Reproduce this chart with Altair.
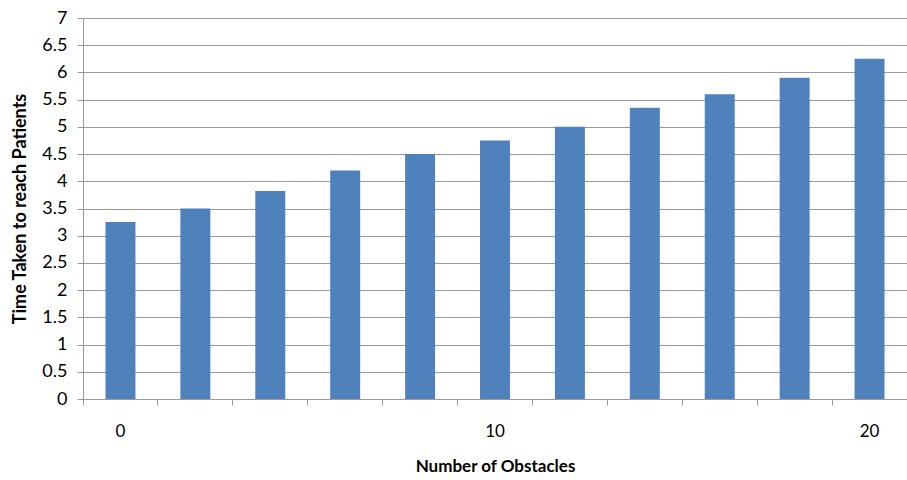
import altair as alt
import pandas as pd

# Obstacle counts and the measured time to reach patients
obstacles = [0, 2, 4, 6, 8, 10, 12, 14, 16, 18, 20]
times = [3.25, 3.5, 3.82, 4.2, 4.5, 4.75, 5.0, 5.35, 5.6, 5.9, 6.25]
y_ticks = [0, 0.5, 1, 1.5, 2, 2.5, 3, 3.5, 4, 4.5, 5, 5.5, 6, 6.5, 7]
x_labelled = ["0", "10", "20"]

df = pd.DataFrame({"obstacles": [str(v) for v in obstacles], "time": times})

FONT = "Lato"
GRID = "#9a9a9a"
PLOT_W = 824

bars = alt.Chart(df).mark_bar(
    color="#4f81bd",
    width=alt.RelativeBandSize(0.4),
).encode(
    x=alt.X(
        "obstacles:O",
        sort=None,
        scale=alt.Scale(paddingInner=0, paddingOuter=0),
        axis=alt.Axis(
            title="Number of Obstacles",
            titleFont=FONT,
            titleFontSize=17,
            titleFontWeight="bold",
            titleColor="#000000",
            titlePadding=19,
            labelFont=FONT,
            labelFontSize=17,
            labelColor="#000000",
            labelAngle=0,
            labelPadding=18,
            labelExpr="indexof(" + str(x_labelled) + ", datum.label) >= 0 ? datum.label : ''",
            bandPosition=0,
            tickColor=GRID,
            tickSize=6,
            domainColor=GRID,
            grid=False,
        ),
    ),
    y=alt.Y(
        "time:Q",
        scale=alt.Scale(domain=[0, 7], nice=False),
        axis=alt.Axis(
            title="Time Taken to reach Patients",
            titleFont=FONT,
            titleFontSize=18,
            titleFontWeight="bold",
            titleColor="#000000",
            titlePadding=12,
            labelFont=FONT,
            labelFontSize=18,
            labelColor="#000000",
            labelPadding=10,
            format="~g",
            values=y_ticks,
            tickColor=GRID,
            tickSize=6,
            domainColor=GRID,
            gridColor=GRID,
            gridWidth=1,
        ),
    ),
)

chart = bars.properties(
    width=PLOT_W,
    height=381,
    padding={"left": 83, "top": 18, "right": 0, "bottom": 81},
    autosize="none",
    background="white",
).configure_view(stroke=None)

chart.save("out.html", embed_options={"renderer": "svg", "actions": False})
